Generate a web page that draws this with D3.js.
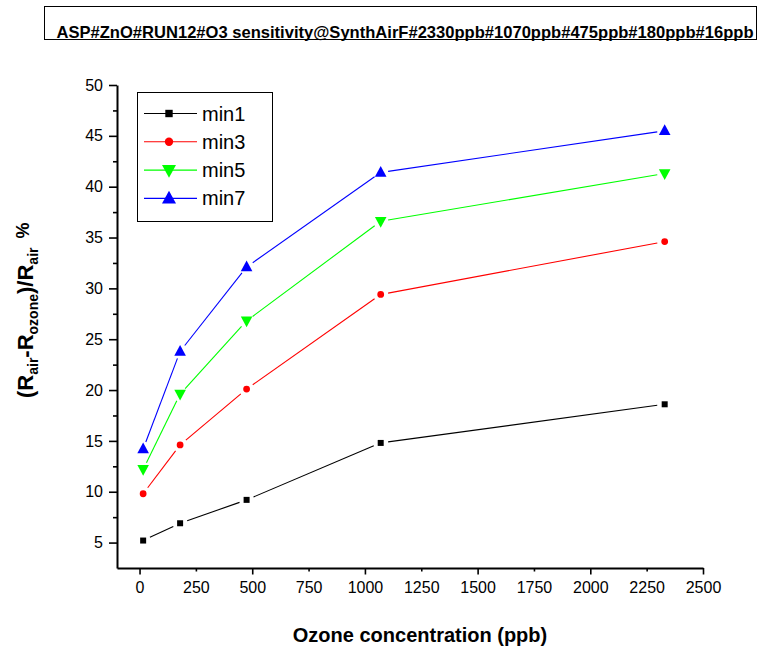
<!DOCTYPE html>
<html lang="en">
<head>
<meta charset="utf-8">
<title>O3 sensitivity</title>
<script src="https://cdn.jsdelivr.net/npm/d3@7/dist/d3.min.js"></script>
<style>
  body { margin: 0; background: #fff; }
  text { font-family: "Liberation Sans", Arial, sans-serif; fill: #000; }
</style>
</head>
<body>
<div id="chart"></div>
<script>
// data
var concentrations = [16, 180, 475, 1070, 2330];
var min1 = [5.2, 6.9, 9.2, 14.8, 18.6];
var min3 = [9.8, 14.6, 20.1, 29.4, 34.6];
var min5 = [12.2, 19.6, 26.8, 36.6, 41.3];
var min7 = [14.2, 23.8, 32.1, 41.4, 45.5];
var seriesNames = ["min1", "min3", "min5", "min7"];
var xTicks = [0, 250, 500, 750, 1000, 1250, 1500, 1750, 2000, 2250, 2500];
var yTicks = [5, 10, 15, 20, 25, 30, 35, 40, 45, 50];
var yMinor = [7.5, 12.5, 17.5, 22.5, 27.5, 32.5, 37.5, 42.5, 47.5];
var titleText = "ASP#ZnO#RUN12#O3 sensitivity@SynthAirF#2330ppb#1070ppb#475ppb#180ppb#16ppb";

var series = [
  {name: seriesNames[0], values: min1, color: "#000000", shape: "square"},
  {name: seriesNames[1], values: min3, color: "#ff0000", shape: "circle"},
  {name: seriesNames[2], values: min5, color: "#00ff00", shape: "down"},
  {name: seriesNames[3], values: min7, color: "#0000ff", shape: "up"}
];

var W = 760, H = 651;
var svg = d3.select("#chart").append("svg").attr("width", W).attr("height", H);

var x = d3.scaleLinear().domain([-100, 2500]).range([117, 703]);
var y = d3.scaleLinear().domain([2.5, 50]).range([568, 85]);

// title box
svg.append("rect").attr("x", 44.5).attr("y", 6.5).attr("width", 712).attr("height", 33)
  .attr("fill", "none").attr("stroke", "#000").attr("stroke-width", 1);
svg.append("text").attr("x", 56.5).attr("y", 37.5)
  .attr("font-size", 16.5).attr("font-weight", "bold")
  .attr("textLength", 697).attr("lengthAdjust", "spacingAndGlyphs")
  .text(titleText);

// axes
var xAxis = svg.append("g").attr("transform", "translate(0,568)")
  .call(d3.axisBottom(x).tickValues(xTicks).tickFormat(d3.format("d"))
    .tickSize(6).tickSizeOuter(0).tickPadding(5));
xAxis.selectAll(".tick line").attr("y2", function(d) { return d % 500 === 0 ? 6.5 : 3.5; });

var yAxis = svg.append("g").attr("transform", "translate(117,0)")
  .call(d3.axisLeft(y).tickValues(yTicks).tickSize(8).tickSizeOuter(0).tickPadding(6));
svg.append("g").attr("transform", "translate(117,0)")
  .call(d3.axisLeft(y).tickValues(yMinor).tickSize(4).tickFormat("").tickSizeOuter(0))
  .select(".domain").remove();

svg.selectAll(".domain").attr("stroke", "#000").attr("stroke-width", 2);
svg.selectAll(".tick line").attr("stroke", "#000").attr("stroke-width", 1.6);
svg.selectAll(".tick text").attr("font-size", 16).attr("font-family", "Liberation Sans, Arial, sans-serif").attr("fill", "#000");
xAxis.selectAll(".tick text").attr("dy", "0.85em");

// markers, size ~ half width in px
function symbolPath(shape, size) {
  if (shape === "square") { var s = size; return "M" + (-s) + "," + (-s) + "h" + (2 * s) + "v" + (2 * s) + "h" + (-2 * s) + "Z"; }
  if (shape === "circle") { var r = size; return "M" + r + ",0A" + r + "," + r + " 0 1,1 " + (-r) + ",0A" + r + "," + r + " 0 1,1 " + r + ",0Z"; }
  var w = size, h = size * 1.85;
  if (shape === "up") return "M0," + (-h * 0.6) + "L" + w + "," + (h * 0.4) + "L" + (-w) + "," + (h * 0.4) + "Z";
  return "M0," + (h * 0.6) + "L" + w + "," + (-h * 0.4) + "L" + (-w) + "," + (-h * 0.4) + "Z";
}
var plotSize = {square: 3, circle: 3.4, up: 5.8, down: 5.8};
var legendSize = {square: 3.7, circle: 4.2, up: 7, down: 7};

var gap = 7.5;
series.forEach(function(s) {
  var pts = s.values.map(function(v, i) { return [x(concentrations[i]), y(v)]; });
  var g = svg.append("g");
  for (var i = 0; i < pts.length - 1; i++) {
    var a = pts[i], b = pts[i + 1];
    var dx = b[0] - a[0], dy = b[1] - a[1], len = Math.sqrt(dx * dx + dy * dy);
    var ux = dx / len, uy = dy / len;
    g.append("line")
      .attr("x1", a[0] + ux * gap).attr("y1", a[1] + uy * gap)
      .attr("x2", b[0] - ux * gap).attr("y2", b[1] - uy * gap)
      .attr("stroke", s.color).attr("stroke-width", 1.1);
  }
  g.selectAll("path").data(pts).enter().append("path")
    .attr("transform", function(d) { return "translate(" + d[0] + "," + d[1] + ")"; })
    .attr("d", symbolPath(s.shape, plotSize[s.shape]))
    .attr("fill", s.color);
});

// legend
var legend = svg.append("g");
legend.append("rect").attr("x", 137.5).attr("y", 92.5).attr("width", 135).attr("height", 129)
  .attr("fill", "#fff").attr("stroke", "#000").attr("stroke-width", 1);
series.forEach(function(s, i) {
  var ly = 113.5 + i * 28.3;
  legend.append("line").attr("x1", 144).attr("x2", 197).attr("y1", ly).attr("y2", ly)
    .attr("stroke", s.color).attr("stroke-width", 1.1);
  legend.append("path").attr("transform", "translate(169," + ly + ")")
    .attr("d", symbolPath(s.shape, legendSize[s.shape]))
    .attr("fill", s.color);
  legend.append("text").attr("x", 202).attr("y", ly + 7).attr("font-size", 20).text(s.name);
});

// axis titles
svg.append("text").attr("x", 420).attr("y", 642).attr("text-anchor", "middle")
  .attr("font-size", 20).attr("font-weight", "bold").text("Ozone concentration (ppb)");

var yl = svg.append("text").attr("transform", "translate(33,398) rotate(-90)")
  .attr("font-size", 22).attr("font-weight", "bold");
yl.append("tspan").text("(R");
yl.append("tspan").attr("font-size", 14).attr("dy", 5).text("air");
yl.append("tspan").attr("dy", -5).text("-R");
yl.append("tspan").attr("font-size", 14).attr("dy", 5).text("ozone");
yl.append("tspan").attr("dy", -5).text(")/R");
yl.append("tspan").attr("font-size", 14).attr("dy", 5).text("air");
yl.append("tspan").attr("dx", 9).attr("dy", -9).attr("font-size", 18).text("%");
</script>
</body>
</html>
